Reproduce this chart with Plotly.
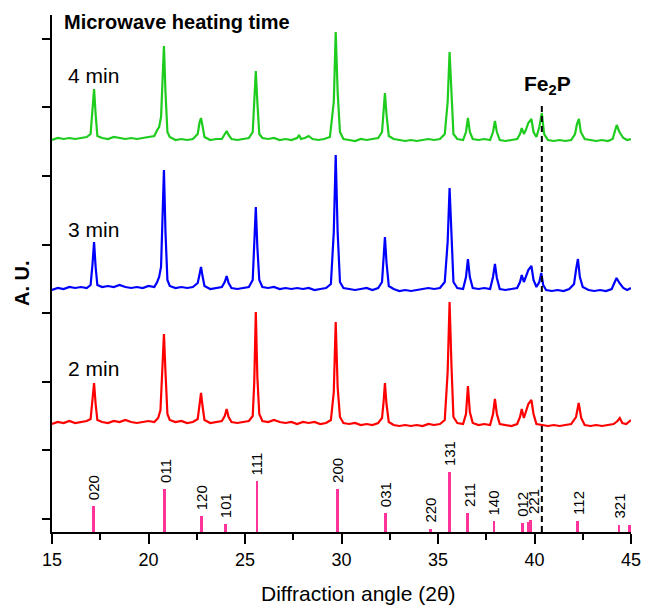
import plotly.graph_objects as go

# ---------------- data (y in arbitrary units) ----------------
RED_X = [15.0, 15.3, 15.6, 15.9, 16.2, 16.5, 16.8, 17.0, 17.1, 17.18, 17.26, 17.35, 17.6, 17.9, 18.2, 18.5, 18.8, 19.1, 19.4, 19.7,
         20.0, 20.3, 20.5, 20.62, 20.72, 20.8, 20.88, 20.98, 21.1, 21.4, 21.7, 22.0, 22.3, 22.55, 22.65, 22.72, 22.8, 22.9, 23.2, 23.5,
         23.8, 23.95, 24.05, 24.15, 24.3, 24.6, 24.9, 25.2, 25.4, 25.48, 25.56, 25.64, 25.74, 25.9, 26.2, 26.5, 26.8, 27.1, 27.4, 27.7,
         28.0, 28.3, 28.6, 28.9, 29.2, 29.45, 29.6, 29.7, 29.8, 29.92, 30.1, 30.4, 30.7, 31.0, 31.3, 31.6, 31.9, 32.1, 32.18, 32.25,
         32.33, 32.45, 32.7, 33.0, 33.3, 33.6, 33.9, 34.2, 34.5, 34.8, 35.1, 35.35, 35.5, 35.6, 35.7, 35.8, 36.0, 36.3, 36.45, 36.55,
         36.65, 36.8, 37.1, 37.4, 37.7, 37.85, 37.95, 38.05, 38.2, 38.5, 38.8, 39.1, 39.25, 39.34, 39.45, 39.55, 39.68, 39.84, 39.95, 40.1,
         40.4, 40.7, 41.0, 41.3, 41.6, 41.9, 42.15, 42.29, 42.42, 42.6, 42.9, 43.2, 43.5, 43.8, 44.1, 44.3, 44.42, 44.55, 44.75, 45.0]
RED_Y = [108, 110, 109, 111, 109, 110, 111, 113, 130, 149, 128, 112, 110, 109, 111, 110, 112, 110, 109, 110,
         111, 110, 114, 122, 160, 198, 160, 118, 112, 110, 111, 109, 110, 113, 128, 139, 126, 112, 109, 110,
         111, 116, 123, 115, 110, 109, 110, 111, 116, 150, 220, 155, 118, 111, 110, 112, 110, 109, 110, 108,
         110, 109, 110, 108, 109, 112, 140, 210, 145, 115, 109, 108, 109, 107, 108, 107, 109, 114, 130, 149,
         128, 110, 107, 106, 107, 106, 107, 106, 108, 107, 108, 112, 160, 230, 165, 115, 109, 108, 118, 146,
         120, 109, 107, 108, 107, 118, 133, 118, 108, 107, 106, 108, 115, 123, 114, 120, 128, 132, 118, 108,
         107, 106, 107, 106, 107, 108, 115, 129, 114, 107, 106, 107, 106, 107, 108, 111, 114, 109, 108, 112]

BLUE_X = [15.0, 15.3, 15.6, 15.9, 16.2, 16.5, 16.8, 17.0, 17.1, 17.18, 17.26, 17.35, 17.6, 17.9, 18.2, 18.5, 18.8, 19.1, 19.4, 19.7,
          20.0, 20.3, 20.45, 20.55, 20.65, 20.72, 20.8, 20.88, 20.98, 21.1, 21.4, 21.7, 22.0, 22.3, 22.55, 22.65, 22.72, 22.8, 22.9, 23.2,
          23.5, 23.8, 23.95, 24.05, 24.15, 24.3, 24.6, 24.9, 25.2, 25.4, 25.48, 25.56, 25.64, 25.74, 25.9, 26.2, 26.5, 26.8, 27.1, 27.4,
          27.7, 28.0, 28.3, 28.6, 28.9, 29.2, 29.45, 29.6, 29.7, 29.8, 29.92, 30.1, 30.4, 30.7, 31.0, 31.3, 31.6, 31.9, 32.1, 32.18,
          32.25, 32.33, 32.45, 32.7, 33.0, 33.3, 33.6, 33.9, 34.2, 34.5, 34.8, 35.1, 35.35, 35.5, 35.6, 35.7, 35.8, 36.0, 36.3, 36.45,
          36.55, 36.65, 36.8, 37.1, 37.4, 37.7, 37.85, 37.95, 38.05, 38.2, 38.5, 38.8, 39.1, 39.25, 39.34, 39.45, 39.55, 39.68, 39.84, 39.95,
          40.1, 40.25, 40.35, 40.45, 40.6, 40.9, 41.2, 41.5, 41.8, 42.05, 42.15, 42.25, 42.35, 42.5, 42.8, 43.1, 43.4, 43.7, 44.0, 44.15,
          44.25, 44.4, 44.6, 44.8, 45.0]
BLUE_Y = [242, 244, 243, 245, 244, 245, 244, 247, 268, 290, 265, 247, 245, 246, 245, 247, 245, 244, 245, 244,
          246, 245, 250, 255, 265, 310, 362, 300, 252, 246, 244, 245, 244, 245, 249, 258, 265, 256, 246, 243,
          244, 245, 250, 256, 249, 244, 243, 244, 245, 252, 285, 325, 285, 252, 245, 244, 245, 243, 244, 243,
          244, 243, 244, 242, 243, 244, 248, 300, 377, 300, 250, 244, 243, 242, 243, 244, 242, 244, 250, 275,
          295, 270, 246, 243, 241, 242, 241, 242, 243, 244, 243, 244, 250, 290, 344, 290, 250, 244, 243, 255,
          273, 255, 244, 243, 244, 243, 255, 268, 254, 243, 242, 243, 244, 250, 257, 250, 255, 262, 266, 252,
          245, 250, 259, 247, 242, 241, 242, 241, 243, 248, 262, 273, 255, 245, 242, 241, 242, 241, 243, 250,
          254, 249, 244, 242, 244]

GREEN_X = [15.0, 15.3, 15.6, 15.9, 16.2, 16.5, 16.8, 17.0, 17.1, 17.18, 17.26, 17.35, 17.6, 17.9, 18.2, 18.5, 18.8, 19.1, 19.4, 19.7,
           20.0, 20.3, 20.45, 20.55, 20.65, 20.72, 20.8, 20.88, 20.98, 21.1, 21.4, 21.7, 22.0, 22.3, 22.55, 22.65, 22.72, 22.8, 22.9, 23.2,
           23.5, 23.8, 23.95, 24.05, 24.15, 24.3, 24.6, 24.9, 25.2, 25.4, 25.48, 25.56, 25.64, 25.74, 25.9, 26.2, 26.5, 26.8, 27.1, 27.4,
           27.7, 27.8, 27.9, 28.1, 28.3, 28.5, 28.8, 29.1, 29.4, 29.6, 29.7, 29.8, 29.92, 30.1, 30.4, 30.7, 31.0, 31.3, 31.6, 31.9,
           32.1, 32.18, 32.25, 32.33, 32.45, 32.7, 33.0, 33.3, 33.6, 33.9, 34.2, 34.5, 34.8, 35.1, 35.35, 35.5, 35.6, 35.7, 35.8, 36.0,
           36.3, 36.45, 36.55, 36.65, 36.8, 37.1, 37.4, 37.7, 37.85, 37.95, 38.05, 38.2, 38.5, 38.8, 39.1, 39.25, 39.34, 39.45, 39.55, 39.68,
           39.84, 39.95, 40.1, 40.25, 40.38, 40.5, 40.7, 41.0, 41.3, 41.6, 41.9, 42.1, 42.2, 42.3, 42.4, 42.6, 42.9, 43.2, 43.5, 43.8,
           44.05, 44.15, 44.26, 44.4, 44.6, 44.8, 45.0]
GREEN_Y = [392, 394, 393, 394, 393, 394, 395, 398, 420, 443, 418, 396, 394, 393, 395, 394, 393, 394, 393, 394,
           395, 396, 402, 405, 415, 450, 486, 440, 400, 395, 392, 393, 392, 393, 398, 410, 414, 406, 395, 392,
           393, 393, 398, 401, 397, 393, 392, 393, 394, 400, 430, 461, 430, 398, 394, 393, 394, 392, 393, 392,
           394, 397, 393, 394, 396, 393, 392, 393, 395, 430, 500, 440, 400, 393, 392, 391, 393, 392, 393, 394,
           400, 420, 439, 418, 396, 393, 392, 391, 392, 391, 392, 393, 392, 393, 398, 430, 480, 430, 398, 393,
           392, 400, 414, 400, 393, 392, 393, 392, 400, 411, 400, 392, 391, 392, 393, 398, 404, 398, 402, 409,
           413, 400, 395, 405, 419, 398, 392, 391, 392, 391, 392, 398, 408, 413, 400, 393, 392, 391, 392, 391,
           393, 400, 407, 400, 394, 392, 393]

# Fe2P reference pattern
REF_POS = [17.16, 20.85, 22.76, 24.0, 25.62, 29.79, 32.29, 34.59, 35.6, 36.54, 37.9, 39.37, 39.7, 39.8, 42.25, 44.38, 44.93]
REF_INT = [26, 43, 16, 8, 51, 43, 19, 3, 60, 19, 11, 9, 10, 12, 11, 7, 7]
HKL_LABELS = ["020", "011", "120", "101", "111", "200", "031", "220", "131", "211", "140", "012", "221", "112", "321"]
HKL_X = [17.16, 20.85, 22.76, 24.0, 25.62, 29.79, 32.29, 34.59, 35.6, 36.6, 37.9, 39.37, 39.95, 42.25, 44.38]
HKL_Y = [26, 43, 16, 8, 51, 43, 19, 3, 60, 19, 11, 9, 12, 11, 7]

SERIES_LABELS = ["2 min", "3 min", "4 min"]
SERIES_LABEL_Y = [164, 303, 457]
FE2P_X = 40.38
FE2P_TOP = 430

X_TICKS = [15, 20, 25, 30, 35, 40, 45]
Y_TICKS = [13, 81.6, 150.2, 218.8, 287.4, 356, 424.6, 493.2]

FONT = "Liberation Sans, Arial, sans-serif"

fig = go.Figure()
fig.add_trace(go.Bar(x=REF_POS, y=REF_INT, width=0.15, marker=dict(color="#FF3399", line=dict(width=0)),
                     showlegend=False, hoverinfo="skip"))
fig.add_trace(go.Scatter(x=RED_X, y=RED_Y, mode="lines", line=dict(color="#FF0000", width=2.2), showlegend=False))
fig.add_trace(go.Scatter(x=BLUE_X, y=BLUE_Y, mode="lines", line=dict(color="#0000FF", width=2.2), showlegend=False))
fig.add_trace(go.Scatter(x=GREEN_X, y=GREEN_Y, mode="lines", line=dict(color="#1ECC1E", width=2.2), showlegend=False))
fig.add_trace(go.Scatter(x=[FE2P_X, FE2P_X], y=[0, FE2P_TOP], mode="lines",
                         line=dict(color="black", width=2, dash="6px,4px"), showlegend=False))

ann = []
for lab, x, y in zip(HKL_LABELS, HKL_X, HKL_Y):
    ann.append(dict(x=x, y=y, text=lab, showarrow=False, textangle=-90, xanchor="center", yanchor="bottom",
                    yshift=4, font=dict(family=FONT, size=15, color="black")))
for lab, y in zip(SERIES_LABELS, SERIES_LABEL_Y):
    ann.append(dict(x=15.7, y=y, text=lab, showarrow=False, xanchor="left", yanchor="middle",
                    font=dict(family=FONT, size=21, color="black")))
ann.append(dict(x=15.5, y=510, text="<b>Microwave heating time</b>", showarrow=False, xanchor="left",
                yanchor="middle", font=dict(family=FONT, size=20, color="black")))
ann.append(dict(x=40.68, y=447, text="<b>Fe<sub>2</sub>P</b>", showarrow=False, xanchor="center",
                yanchor="middle", font=dict(family=FONT, size=21, color="black")))
ann.append(dict(xref="paper", x=0, y=249, text="<b>A. U.</b>", showarrow=False, textangle=-90,
                xanchor="center", yanchor="middle", xshift=-30, font=dict(family=FONT, size=20, color="black")))
ann.append(dict(x=30.9, yref="paper", y=0, text="Diffraction angle (2θ)", showarrow=False, xanchor="center",
                yanchor="middle", yshift=-61, font=dict(family=FONT, size=21, color="black")))

fig.update_layout(
    width=645, height=605,
    margin=dict(l=52, r=14, t=15, b=73, autoexpand=False),
    plot_bgcolor="white", paper_bgcolor="white",
    annotations=ann,
    xaxis=dict(range=[15, 45], tickvals=X_TICKS, ticks="outside", ticklen=10, tickwidth=2, tickcolor="black",
               showline=True, linecolor="black", linewidth=2, showgrid=False, zeroline=False, automargin=False,
               tickfont=dict(family=FONT, size=18, color="black"),
               minor=dict(ticks="outside", ticklen=6, tickwidth=2, tickcolor="black", dtick=2.5, tick0=15, showgrid=False)),
    yaxis=dict(range=[0, 517], tickvals=Y_TICKS, showticklabels=False, ticks="outside", ticklen=8, tickwidth=2,
               tickcolor="black", showline=True, linecolor="black", linewidth=2, showgrid=False, zeroline=False,
               automargin=False),
    bargap=0,
)
fig.write_html("out.html", config={"displayModeBar": False},
               post_script="document.body.style.margin='0';document.body.style.overflow='hidden';")
